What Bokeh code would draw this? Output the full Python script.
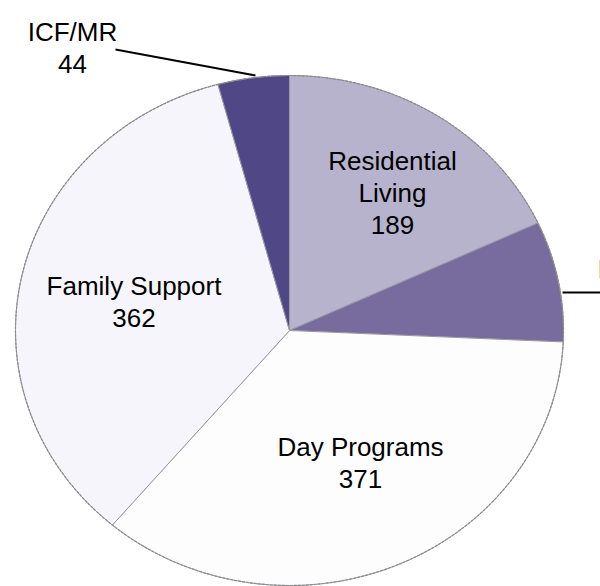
import numpy as np
from bokeh.plotting import figure
from bokeh.models import Range1d, ColumnDataSource
from bokeh.core.properties import value
from bokeh.embed import file_html
from bokeh.resources import INLINE

# ---- data (clockwise from 12 o'clock) ----
categories = ["Residential Living", "In-Home Supports", "Day Programs", "Family Support", "ICF/MR"]
counts = [189, 80, 371, 362, 44]
label_lines = [["Residential", "Living", "189"], ["In-Home Supports", "80"],
               ["Day Programs", "371"], ["Family Support", "362"], ["ICF/MR", "44"]]

# ---- styling / layout ----
colors = ["#b8b3cd", "#776c9d", "#fdfdfe", "#f5f5fb", "#504786"]
CX, CY, RX, RY = 289.0, 330.0, 274.0, 255.0   # pie centre and radii (px)
FONT = "Liberation Sans"
FS = 26
LH = 32
# label anchors: (centre x, first baseline y, align)
label_pos = [(392, 160, "center"), (597, 268, "left"), (360, 446, "center"),
             (133.5, 285, "center"), (72, 31, "center")]

W, H = 600, 586
p = figure(width=W, height=H, x_range=Range1d(0, W), y_range=Range1d(H, 0),
           min_border=0, toolbar_location=None, output_backend="svg",
           x_axis_type=None, y_axis_type=None)
p.grid.visible = False
p.outline_line_color = None
p.background_fill_color = "white"
p.border_fill_color = "white"

vals = np.array(counts, dtype=float)
ends = np.cumsum(vals) / vals.sum() * 2 * np.pi
starts = np.concatenate([[0.0], ends[:-1]])

xs, ys = [], []
for a0, a1 in zip(starts, ends):
    t = np.linspace(a0, a1, max(8, int((a1 - a0) * 80)))
    xs.append(np.concatenate([[CX], CX + RX * np.sin(t)]).tolist())
    ys.append(np.concatenate([[CY], CY - RY * np.cos(t)]).tolist())

src = ColumnDataSource(dict(xs=xs, ys=ys, color=colors, name=categories, n=counts))
p.patches("xs", "ys", source=src, fill_color="color", line_color="#9a9aa6", line_width=1)

# outer rim
t = np.linspace(0, 2 * np.pi, 400)
p.line(CX + RX * np.sin(t), CY - RY * np.cos(t), line_color="#8a8a8a", line_width=1.2,
       line_dash="3 1")

# leader lines
p.line([115, 255], [49, 75], line_color="black", line_width=2)
p.line([562, 600], [292, 292], line_color="black", line_width=2)

# labels
for lines, (lx, ly, al) in zip(label_lines, label_pos):
    for i, s in enumerate(lines):
        x = lx
        if al == "left" and i > 0:
            x = lx + 80
        p.text(x=[x], y=[ly + i * LH], text=[s], text_align=al, text_baseline="alphabetic",
               text_font=value(FONT), text_font_size=f"{FS}px", text_color="black")

open("out.html", "w").write(file_html(p, INLINE))
